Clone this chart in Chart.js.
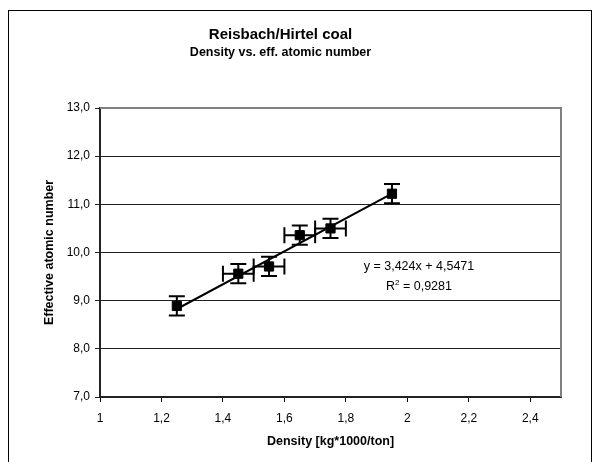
<!DOCTYPE html>
<html>
<head>
<meta charset="utf-8">
<script src="https://cdn.jsdelivr.net/npm/chart.js@4.4.1/dist/chart.umd.min.js"></script>
<style>
    html, body { margin: 0; padding: 0; background: #fff; }
    #chart { display: block; }
</style>
</head>
<body>
<canvas id="chart" width="593" height="462"></canvas>
<script>
// Measured points (density vs. effective atomic number)
const densityValues = [1.25, 1.45, 1.55, 1.65, 1.75, 1.95];
const atomicNumbers = [8.89, 9.56, 9.71, 10.36, 10.50, 11.22];
const densityErrors = [0, 0.05, 0.05, 0.05, 0.05, 0];
const atomicErrors = [0.2, 0.2, 0.2, 0.2, 0.2, 0.2];

// Linear trendline as printed on the chart
const trendSlope = 3.424;
const trendIntercept = 4.5471;
const trendRange = [1.25, 1.95];
const equationText = 'y = 3,424x + 4,5471';
const rSquaredText = '0,9281';

// Axis ranges
const xRange = [1, 2.5];
const xStep = 0.2;
const yRange = [7, 13];
const yStep = 1;

const FONT = "'Liberation Sans', Arial, sans-serif";

function commaNum(v, digits) {
    const s = digits === undefined ? String(Math.round(v * 10) / 10) : v.toFixed(digits);
    return s.replace('.', ',');
}

const points = densityValues.map((x, i) => ({ x: x, y: atomicNumbers[i] }));
const trendPoints = trendRange.map(x => ({ x: x, y: trendSlope * x + trendIntercept }));

// Error bars, frame, plot border and the trend equation
const extrasPlugin = {
    id: 'extras',
    beforeDatasetsDraw(chart) {
        const ctx = chart.ctx;
        const xs = chart.scales.x, ys = chart.scales.y;
        ctx.save();
        ctx.strokeStyle = '#000';
        ctx.lineWidth = 2;
        const cap = 8;
        densityValues.forEach((x, i) => {
            const y = atomicNumbers[i];
            const px = xs.getPixelForValue(x);
            const py = ys.getPixelForValue(y);
            if (atomicErrors[i] > 0) {
                const top = ys.getPixelForValue(y + atomicErrors[i]);
                const bot = ys.getPixelForValue(y - atomicErrors[i]);
                ctx.beginPath();
                ctx.moveTo(px, top); ctx.lineTo(px, bot);
                ctx.moveTo(px - cap, top); ctx.lineTo(px + cap, top);
                ctx.moveTo(px - cap, bot); ctx.lineTo(px + cap, bot);
                ctx.stroke();
            }
            if (densityErrors[i] > 0) {
                const l = xs.getPixelForValue(x - densityErrors[i]);
                const r = xs.getPixelForValue(x + densityErrors[i]);
                ctx.beginPath();
                ctx.moveTo(l, py); ctx.lineTo(r, py);
                ctx.moveTo(l, py - cap); ctx.lineTo(l, py + cap);
                ctx.moveTo(r, py - cap); ctx.lineTo(r, py + cap);
                ctx.stroke();
            }
        });
        ctx.restore();
    },
    afterDraw(chart) {
        const ctx = chart.ctx;
        const a = chart.chartArea;
        ctx.save();
        // gray top/right plot border
        ctx.strokeStyle = '#808080';
        ctx.lineWidth = 2;
        ctx.beginPath();
        ctx.moveTo(a.left, a.top);
        ctx.lineTo(a.right, a.top);
        ctx.lineTo(a.right, a.bottom);
        ctx.stroke();
        // outer frame
        ctx.strokeStyle = '#000';
        ctx.lineWidth = 1;
        ctx.strokeRect(8.5, 10.5, 583, 460);
        // equation
        const cx = a.left + 319;
        ctx.fillStyle = '#000';
        ctx.font = '12.5px ' + FONT;
        ctx.textAlign = 'center';
        ctx.textBaseline = 'middle';
        ctx.fillText(equationText, cx, 267);
        // R² line with a small raised 2
        const rest = ' = ' + rSquaredText;
        const wR = ctx.measureText('R').width;
        ctx.font = '8px ' + FONT;
        const w2 = ctx.measureText('2').width;
        ctx.font = '12.5px ' + FONT;
        const wRest = ctx.measureText(rest).width;
        let x0 = cx - (wR + w2 + wRest) / 2;
        ctx.textAlign = 'left';
        ctx.fillText('R', x0, 287);
        ctx.font = '8px ' + FONT;
        ctx.fillText('2', x0 + wR, 283);
        ctx.font = '12.5px ' + FONT;
        ctx.fillText(rest, x0 + wR + w2, 287);
        ctx.restore();
    }
};

const ctx = document.getElementById('chart').getContext('2d');
const chart = new Chart(ctx, {
    type: 'scatter',
    data: {
        datasets: [
            {
                label: 'Measured',
                data: points,
                backgroundColor: '#000',
                borderColor: '#000',
                borderWidth: 1,
                pointStyle: 'rect',
                pointRadius: 6.5
            },
            {
                label: 'Trend',
                type: 'line',
                data: trendPoints,
                borderColor: '#000',
                borderWidth: 2,
                pointRadius: 0,
                fill: false
            }
        ]
    },
    options: {
        responsive: false,
        animation: false,
        layout: { padding: { top: 0, left: 0, right: 32, bottom: 0 } },
        plugins: {
            legend: { display: false },
            tooltip: { enabled: false },
            title: {
                display: true,
                text: 'Reisbach/Hirtel coal',
                color: '#000',
                font: { family: FONT, size: 15, weight: 'bold' },
                padding: { top: 26, bottom: 1 }
            },
            subtitle: {
                display: true,
                text: 'Density vs. eff. atomic number',
                color: '#000',
                font: { family: FONT, size: 12.5, weight: 'bold' },
                padding: { top: 0, bottom: 48 }
            }
        },
        scales: {
            x: {
                type: 'linear',
                min: xRange[0],
                max: xRange[1],
                border: { color: '#222', width: 2 },
                grid: { drawOnChartArea: false, drawTicks: true, tickLength: 5, color: '#000' },
                ticks: {
                    stepSize: xStep,
                    includeBounds: false,
                    color: '#000',
                    padding: 9,
                    font: { family: FONT, size: 12 },
                    callback: v => commaNum(v)
                },
                title: {
                    display: true,
                    text: 'Density [kg*1000/ton]',
                    color: '#000',
                    font: { family: FONT, size: 12.5, weight: 'bold' },
                    padding: { top: 0, bottom: 12.5 }
                },
                afterFit(scale) { scale.height = 65; }
            },
            y: {
                type: 'linear',
                min: yRange[0],
                max: yRange[1],
                border: { color: '#222', width: 2 },
                grid: { color: '#222', lineWidth: 1, tickLength: 5 },
                ticks: {
                    stepSize: yStep,
                    color: '#000',
                    padding: 5,
                    font: { family: FONT, size: 12 },
                    callback: v => commaNum(v, 1)
                },
                title: {
                    display: true,
                    text: 'Effective atomic number',
                    color: '#000',
                    font: { family: FONT, size: 12.5, weight: 'bold' },
                    padding: { top: 42.5, bottom: 0 }
                },
                afterFit(scale) { scale.width = 100; }
            }
        }
    },
    plugins: [extrasPlugin]
});
</script>
</body>
</html>
